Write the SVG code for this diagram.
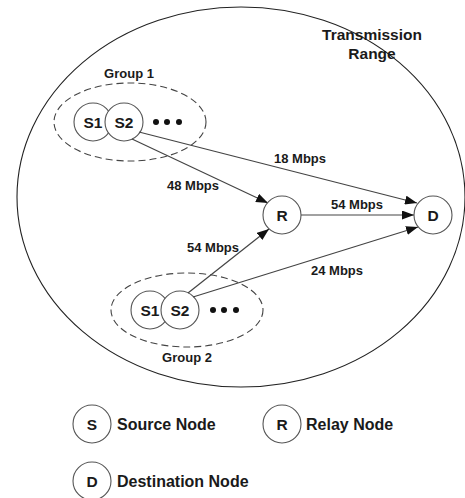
<svg xmlns="http://www.w3.org/2000/svg" width="465" height="498" viewBox="0 0 465 498">
  <style>
    .node { fill: #fff; stroke: #555; stroke-width: 1.1; }
    .range { fill: none; stroke: #222; stroke-width: 1.1; }
    .group { fill: none; stroke: #444; stroke-width: 1.1; stroke-dasharray: 7 4; }
    .edge { fill: none; stroke: #444; stroke-width: 1.2; marker-end: url(#arrow); }
    .dot { fill: #111; }
    text { font-family: "Liberation Sans", Arial, sans-serif; font-weight: bold; fill: #1a1a1a; }
    .nl { font-size: 15.5px; text-anchor: middle; }
    .el { font-size: 13px; text-anchor: middle; }
    .gl { font-size: 13px; text-anchor: middle; }
    .lg { font-size: 16px; }
  </style>
  <defs>
    <marker id="arrow" viewBox="0 0 12 9" refX="12" refY="4.5" markerWidth="12" markerHeight="9" markerUnits="userSpaceOnUse" orient="auto">
      <path d="M0,0 L12,4.5 L0,9 z" fill="#111"/>
    </marker>
  </defs>

  <!-- transmission range -->
  <g id="range">
    <ellipse class="range" cx="241" cy="197" rx="224" ry="190"/>
    <text x="372" y="40" font-size="15.5" text-anchor="middle">Transmission</text>
    <text x="372" y="59" font-size="15.5" text-anchor="middle">Range</text>
  </g>

  <!-- source groups -->
  <g id="group1">
    <ellipse class="group" cx="130" cy="122" rx="76" ry="39"/>
    <text class="gl" x="129" y="78">Group 1</text>
    <circle class="dot" cx="156" cy="122" r="3"/>
    <circle class="dot" cx="167" cy="122" r="3"/>
    <circle class="dot" cx="179" cy="122" r="3"/>
  </g>
  <g id="g1-s1">
    <circle class="node" cx="93" cy="122" r="19"/>
    <text class="nl" x="93" y="128">S1</text>
  </g>
  <g id="g1-s2">
    <circle class="node" cx="124" cy="122" r="19"/>
    <text class="nl" x="124" y="128">S2</text>
  </g>

  <g id="group2">
    <ellipse class="group" cx="187" cy="310" rx="76" ry="37"/>
    <text class="gl" x="187" y="362">Group 2</text>
    <circle class="dot" cx="213" cy="310" r="3"/>
    <circle class="dot" cx="224" cy="310" r="3"/>
    <circle class="dot" cx="236" cy="310" r="3"/>
  </g>
  <g id="g2-s1">
    <circle class="node" cx="150" cy="310" r="19"/>
    <text class="nl" x="150" y="316">S1</text>
  </g>
  <g id="g2-s2">
    <circle class="node" cx="180" cy="310" r="19"/>
    <text class="nl" x="180" y="316">S2</text>
  </g>

  <!-- connectors -->
  <g id="connectors">
    <line class="edge" x1="132" y1="139" x2="268" y2="203"/>
    <line class="edge" x1="139" y1="132" x2="417" y2="203"/>
    <line class="edge" x1="301" y1="215" x2="414" y2="215"/>
    <line class="edge" x1="188" y1="293" x2="269" y2="229"/>
    <line class="edge" x1="193" y1="297" x2="418" y2="227"/>
    <text class="el" x="300" y="163">18 Mbps</text>
    <text class="el" x="193" y="190">48 Mbps</text>
    <text class="el" x="357" y="209">54 Mbps</text>
    <text class="el" x="213" y="252">54 Mbps</text>
    <text class="el" x="337" y="275">24 Mbps</text>
  </g>

  <g id="relay">
    <circle class="node" cx="282" cy="215" r="19"/>
    <text class="nl" x="282" y="221">R</text>
  </g>
  <g id="destination">
    <circle class="node" cx="433" cy="215" r="19"/>
    <text class="nl" x="433" y="221">D</text>
  </g>

  <!-- legend -->
  <g id="legend-source">
    <circle class="node" cx="92" cy="424" r="19"/>
    <text class="nl" x="92" y="430">S</text>
    <text class="lg" x="117" y="430">Source Node</text>
  </g>
  <g id="legend-relay">
    <circle class="node" cx="282" cy="424" r="19"/>
    <text class="nl" x="282" y="430">R</text>
    <text class="lg" x="306" y="430">Relay Node</text>
  </g>
  <g id="legend-destination">
    <circle class="node" cx="92" cy="481" r="19"/>
    <text class="nl" x="92" y="487">D</text>
    <text class="lg" x="117" y="487">Destination Node</text>
  </g>
</svg>
